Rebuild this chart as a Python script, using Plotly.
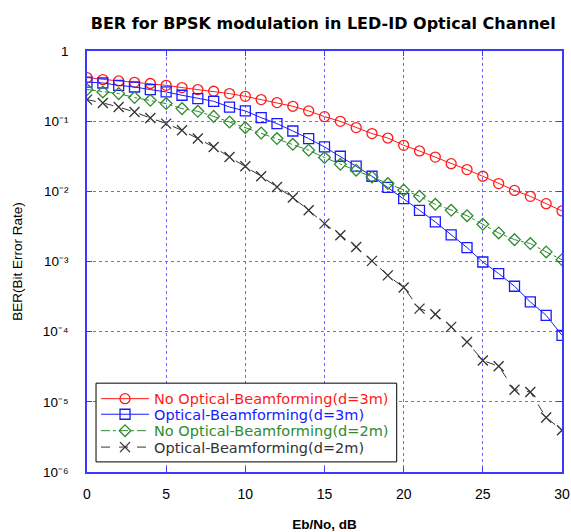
import plotly.graph_objects as go

ebno_db = list(range(0, 31))

ber_no_ob_3m = [0.418, 0.392, 0.374, 0.358, 0.344, 0.324, 0.301, 0.282, 0.267, 0.247,
                0.226, 0.203, 0.184, 0.163, 0.140, 0.116, 0.0995, 0.0811, 0.0665, 0.0575,
                0.0453, 0.0376, 0.0308, 0.0248, 0.0204, 0.0164, 0.0129, 0.0103, 0.00849,
                0.00668, 0.00525]
ber_ob_3m = [0.361, 0.350, 0.324, 0.307, 0.282, 0.261, 0.234, 0.210, 0.192, 0.159,
             0.140, 0.112, 0.0923, 0.0724, 0.0565, 0.0429, 0.0316, 0.0228, 0.0164, 0.0114,
             0.00789, 0.00537, 0.00366, 0.00239, 0.00158, 0.000984, 0.000673, 0.000444,
             0.000265, 0.000171, 0.0000887]
ber_no_ob_2m = [0.282, 0.261, 0.247, 0.217, 0.198, 0.178, 0.151, 0.138, 0.117, 0.0973,
                0.0809, 0.0678, 0.0565, 0.0468, 0.0385, 0.0303, 0.0243, 0.0200, 0.0160,
                0.0129, 0.0104, 0.00849, 0.00653, 0.00537, 0.0045, 0.00339, 0.00255,
                0.00205, 0.00180, 0.00137, 0.00106]
ber_ob_2m = [0.203, 0.182, 0.159, 0.135, 0.111, 0.0923, 0.0741, 0.0565, 0.0429, 0.0308,
             0.0228, 0.0164, 0.0115, 0.00815, 0.00537, 0.00347, 0.00236, 0.00161, 0.00102,
             0.000635, 0.000425, 0.000213, 0.000177, 0.000117, 0.0000713, 0.0000389,
             0.0000321, 0.0000149, 0.0000138, 0.00000597, 0.00000394]

series_names = ["No Optical-Beamforming(d=3m)", "Optical-Beamforming(d=3m)",
                "No Optical-Beamforming(d=2m)", "Optical-Beamforming(d=2m)"]

x_tickvals = [0, 5, 10, 15, 20, 25, 30]
y_tickvals = [1, 1e-1, 1e-2, 1e-3, 1e-4, 1e-5, 1e-6]
y_ticktext = ["1", "10⁻¹", "10⁻²", "10⁻³", "10⁻⁴", "10⁻⁵", "10⁻⁶"]

styles = [
    dict(color="#ff1a1a", symbol="circle-open", dash="solid", size=10),
    dict(color="#1a1aff", symbol="square-open", dash="solid", size=10),
    dict(color="#2e8b2e", symbol="diamond-open", dash="dashdot", size=9),
    dict(color="#333333", symbol="x-thin-open", dash="dash", size=10),
]
series = [ber_no_ob_3m, ber_ob_3m, ber_no_ob_2m, ber_ob_2m]
legend_ids = ["legend", "legend2", "legend3", "legend4"]
legend_rows_y = [0.174, 0.137, 0.098, 0.059]  # paper y of each legend row

fig = go.Figure()
for name, ys, st, lg in zip(series_names, series, styles, legend_ids):
    fig.add_trace(go.Scatter(
        x=ebno_db, y=ys, mode="lines+markers", name=name, legend=lg,
        line=dict(color=st["color"], width=1, dash=st["dash"]),
        marker=dict(symbol=st["symbol"], size=st["size"],
                    color=st["color"], line=dict(color=st["color"], width=1.3)),
    ))

axis_blue = "#3a3aff"
grid_blue = "#6a6aff"

legend_layout = {}
for lg, st, ly in zip(legend_ids, styles, legend_rows_y):
    legend_layout[lg] = dict(
        x=0.019, y=ly, xanchor="left", yanchor="middle",
        bgcolor="rgba(0,0,0,0)", borderwidth=0, itemwidth=48,
        font=dict(family="DejaVu Sans, sans-serif", size=14.5, color=st["color"]),
    )

fig.update_layout(
    width=571, height=532, autosize=False,
    margin=dict(l=87, r=9, t=51, b=60),
    paper_bgcolor="white", plot_bgcolor="white",
    font=dict(family="Liberation Sans, Arial, sans-serif", size=14, color="black"),
    title=dict(text="BER for BPSK modulation in LED-ID Optical Channel",
               x=0.566, xanchor="center", y=0.956, yanchor="middle",
               font=dict(family="DejaVu Sans, sans-serif", size=16, color="black",
                         weight="bold")),
    showlegend=True,
    shapes=[dict(type="rect", xref="paper", yref="paper",
                 x0=0.019, x1=0.652, y0=0.024, y1=0.211,
                 fillcolor="white", line=dict(color="black", width=1), layer="above")],
    **legend_layout,
)
fig.update_xaxes(
    range=[0, 30], tickvals=x_tickvals, showline=True, linecolor=axis_blue,
    linewidth=1.5, mirror="ticks", ticks="inside", ticklen=5, tickcolor=axis_blue,
    showgrid=True, gridcolor=grid_blue, griddash="dot", gridwidth=1, zeroline=False,
    ticklabelstandoff=8, tickfont=dict(size=14), automargin=False,
    title=dict(text="Eb/No, dB", font=dict(size=13.5, weight="bold"), standoff=21),
)
fig.update_yaxes(
    type="log", range=[-6, 0], tickvals=y_tickvals, ticktext=y_ticktext,
    showline=True, linecolor=axis_blue, linewidth=1.5, mirror="ticks",
    ticks="inside", ticklen=5, tickcolor=axis_blue,
    showgrid=True, gridcolor=grid_blue, griddash="dot", gridwidth=1, zeroline=False,
    ticklabelstandoff=14, tickfont=dict(size=13.5), automargin=False,
    title=dict(text="BER(Bit Error Rate)", font=dict(size=13.5), standoff=17),
)

fig.write_html(
    "out.html",
    config={"displayModeBar": False},
    post_script="document.body.style.margin='0';document.body.style.overflow='hidden';",
)
